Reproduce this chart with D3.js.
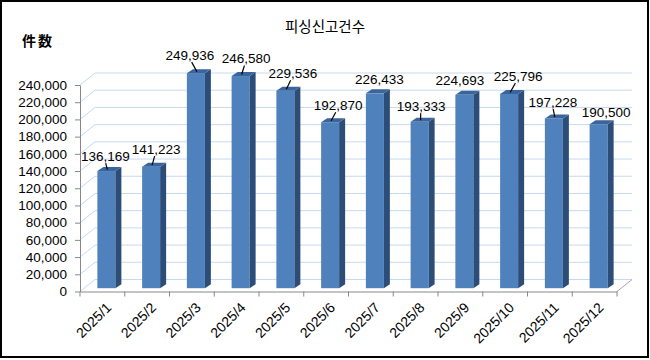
<!DOCTYPE html>
<html><head><meta charset="utf-8">
<script src="https://cdn.jsdelivr.net/npm/d3@7"></script>
<style>html,body{margin:0;padding:0;background:#fff;}svg{display:block;}</style>
</head><body>
<script>
const categories = ["2025/1","2025/2","2025/3","2025/4","2025/5","2025/6","2025/7","2025/8","2025/9","2025/10","2025/11","2025/12"];
const values = [136169,141223,249936,246580,229536,192870,226433,193333,224693,225796,197228,190500];
const yTicks = [0,20000,40000,60000,80000,100000,120000,140000,160000,180000,200000,220000,240000];
const title = "피싱신고건수";
const yTitle = "件数";
// label placement (offset from bar top centre) and whether a leader line is drawn
const labelOffsets = [[-1,-15],[5,-17.5],[-6,-18],[5.5,-17.5],[7.5,-17.5],[8,-17],[4.5,-14],[1.5,-15.5],[-4.5,-15],[9,-18],[-1,-16.5],[7.5,-12.5]];
const leaders = [1,1,1,1,1,1,0,1,0,1,1,0];

const W=650,H=360;
const svg=d3.select("body").append("svg").attr("width",W).attr("height",H);
svg.append("rect").attr("x",1).attr("y",1).attr("width",647).attr("height",356)
  .attr("fill","#fff").attr("stroke","#000").attr("stroke-width",2);

const x0=80,x1=617,dX=15,dY=-12;
const x=d3.scaleBand().domain(categories).range([x0,x1]);
const y=d3.scaleLinear().domain([0,240000]).range([291.5,85]);

const numFont="'Liberation Sans', Arial, sans-serif";
const fmt=d3.format(",");

// back wall gridlines
const g=svg.append("g");
yTicks.forEach(t=>{
  const yy=y(t);
  g.append("path").attr("d",`M${x0},${yy}L${x0+dX},${yy+dY}L${x1+dX},${yy+dY}`)
   .attr("fill","none").attr("stroke","#C6D9F0").attr("stroke-width",1);
});
// floor right edge
svg.append("line").attr("x1",x1).attr("y1",y(0)).attr("x2",x1+dX).attr("y2",y(0)+dY)
  .attr("stroke","#A6A6A6").attr("stroke-width",1);

// axes
const yAxis=d3.axisLeft(y).tickValues(yTicks).tickFormat(fmt).tickSizeInner(5).tickSizeOuter(0).tickPadding(8);
const ya=svg.append("g").attr("transform",`translate(${x0},0)`).call(yAxis);
ya.select(".domain").attr("stroke","#888");
ya.selectAll(".tick line").attr("stroke","#888");
ya.selectAll("text").attr("font-family",numFont).attr("font-size","13.5px").attr("fill","#000");

const xAxis=d3.axisBottom(x).tickSize(0).tickSizeOuter(0);
const xa=svg.append("g").attr("transform",`translate(0,${y(0)})`).call(xAxis);
xa.select(".domain").attr("stroke","#888");
xa.selectAll(".tick line").remove();
xa.selectAll("text")
  .attr("font-family",numFont).attr("font-size","14px").attr("fill","#000")
  .attr("text-anchor","end").attr("dy",null).attr("y",0)
  .attr("transform",`translate(10,17) rotate(-45)`);
// boundary ticks
const bounds=categories.map(c=>x(c)).concat([x1]);
svg.append("g").selectAll("line").data(bounds).join("line")
  .attr("x1",d=>d).attr("x2",d=>d).attr("y1",y(0)).attr("y2",y(0)+5)
  .attr("stroke","#888");

// bars
const bw=18,depX=6,depY=-4,offX=4,offY=-3.3;
const bars=svg.append("g");
values.forEach((v,i)=>{
  const c=categories[i];
  const cx=x(c)+x.bandwidth()/2+offX;
  const bx=cx-bw/2;
  const top=y(v)+offY, base=y(0)+offY;
  bars.append("rect").attr("x",bx).attr("y",top).attr("width",bw).attr("height",base-top).attr("fill","#4F81BD");
  bars.append("path").attr("d",`M${bx+bw},${top}L${bx+bw+depX},${top+depY}L${bx+bw+depX},${base+depY}L${bx+bw},${base}Z`).attr("fill","#2C4D77");
  bars.append("path").attr("d",`M${bx},${top}L${bx+depX},${top+depY}L${bx+bw+depX},${top+depY}L${bx+bw},${top}Z`).attr("fill","#3A659C");
  const [ox,oy]=labelOffsets[i];
  const lx=cx+ox, ly=top+oy;
  svg.append("text").attr("x",lx).attr("y",ly).attr("dy","0.35em").attr("text-anchor","middle")
    .attr("font-family",numFont).attr("font-size","13.5px").attr("fill","#000").text(fmt(v));
  if(leaders[i]){
    svg.append("line").attr("x1",lx+ (cx-lx)*0.3).attr("y1",ly+7).attr("x2",cx+1).attr("y2",top-1.5)
      .attr("stroke","#000").attr("stroke-width",1.2);
  }
});

svg.append("text").attr("x",325).attr("y",32).attr("text-anchor","middle")
  .attr("font-family","'Noto Sans CJK KR', sans-serif").attr("font-size","14.5px").attr("fill","#000").text(title);
svg.append("text").attr("x",22).attr("y",46)
  .attr("font-family","'Noto Sans CJK JP', sans-serif").attr("font-size","14px").attr("font-weight","bold")
  .attr("letter-spacing","2px").attr("fill","#000").text(yTitle);
</script>
</body></html>
